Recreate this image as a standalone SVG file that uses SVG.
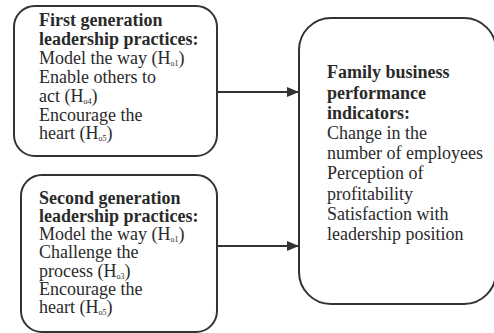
<svg xmlns="http://www.w3.org/2000/svg" width="494" height="333" viewBox="0 0 494 333">
<style>
.box{fill:#fff;stroke:#333;stroke-width:2}
.t{font-family:"Liberation Serif","Times New Roman",serif;font-size:18px;fill:#2a2a2a}
.b{font-weight:bold}
.sub{font-size:8px}
.conn{stroke:#333;stroke-width:2;fill:none}
</style>
<defs>
<marker id="ah" viewBox="0 0 12 10" refX="12" refY="5" markerWidth="12" markerHeight="10" markerUnits="userSpaceOnUse" orient="auto">
<path d="M0,0 L12,5 L0,10 Z" fill="#333"/>
</marker>
</defs>
<rect width="494" height="333" fill="#fff"/>
<g id="connectors">
<line class="conn" x1="217" y1="92" x2="299" y2="92" marker-end="url(#ah)"/>
<line class="conn" x1="217" y1="246" x2="299" y2="246" marker-end="url(#ah)"/>
</g>
<g id="first-generation">
<rect class="box" x="14" y="6" width="203" height="150" rx="21"/>
<text class="t" x="39">
<tspan class="b" x="39" y="26">First generation</tspan>
<tspan class="b" x="39" y="44.9">leadership practices:</tspan>
<tspan x="39" y="63.8">Model the way (H<tspan class="sub" dy="2">o1</tspan><tspan dy="-2">)</tspan></tspan>
<tspan x="39" y="82.7">Enable others to</tspan>
<tspan x="39" y="101.6">act (H<tspan class="sub" dy="2">o4</tspan><tspan dy="-2">)</tspan></tspan>
<tspan x="39" y="120.5">Encourage the</tspan>
<tspan x="39" y="139.4">heart (H<tspan class="sub" dy="2">o5</tspan><tspan dy="-2">)</tspan></tspan>
</text>
</g>
<g id="second-generation">
<rect class="box" x="21" y="175" width="196" height="157" rx="21"/>
<text class="t">
<tspan class="b" x="39" y="203.5">Second generation</tspan>
<tspan class="b" x="39" y="221.8">leadership practices:</tspan>
<tspan x="39" y="240.1">Model the way (H<tspan class="sub" dy="2">o1</tspan><tspan dy="-2">)</tspan></tspan>
<tspan x="39" y="258.4">Challenge the</tspan>
<tspan x="39" y="276.7">process (H<tspan class="sub" dy="2">o3</tspan><tspan dy="-2">)</tspan></tspan>
<tspan x="39" y="295">Encourage the</tspan>
<tspan x="39" y="313.3">heart (H<tspan class="sub" dy="2">o5</tspan><tspan dy="-2">)</tspan></tspan>
</text>
</g>
<g id="performance">
<rect class="box" x="299" y="18" width="197" height="286" rx="32"/>
<text class="t">
<tspan class="b" x="327" y="78.3">Family business</tspan>
<tspan class="b" x="327" y="98.5">performance</tspan>
<tspan class="b" x="327" y="118.7">indicators:</tspan>
<tspan x="327" y="138.9">Change in the</tspan>
<tspan x="327" y="159.1">number of employees</tspan>
<tspan x="327" y="179.3">Perception of</tspan>
<tspan x="327" y="199.5">profitability</tspan>
<tspan x="327" y="219.7">Satisfaction with</tspan>
<tspan x="327" y="239.9">leadership position</tspan>
</text>
</g>
</svg>
